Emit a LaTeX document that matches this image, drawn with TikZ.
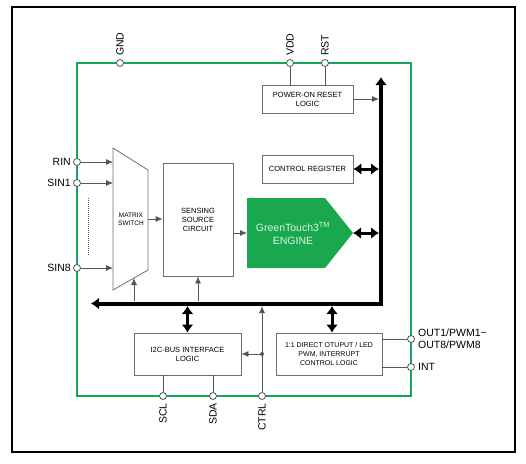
\documentclass[tikz,border=0pt]{standalone}
\usepackage{fontspec}
\setmainfont{Liberation Sans}
\usetikzlibrary{arrows.meta}
\definecolor{chipgreen}{RGB}{20,165,90}
\definecolor{enginegreen}{RGB}{26,168,78}
\definecolor{enginetext}{RGB}{225,245,230}
\definecolor{wiregray}{RGB}{85,85,85}
\definecolor{boxgray}{RGB}{110,110,110}
\tikzset{
  pin/.style={circle, draw=wiregray, fill=white, inner sep=0pt, minimum size=7pt, thick},
  blk/.style={draw=boxgray, thick, align=center, font=\fontsize{7.5}{9}\selectfont, inner sep=1pt},
  pinlabel/.style={font=\fontsize{10.5}{12}\selectfont, inner sep=1pt},
  wire/.style={wiregray, thick},
  sig/.style={wiregray, thick, -{Latex[length=7pt,width=6pt]}},
  busarrow/.style={line width=4pt, {Latex[length=8pt,width=12pt]}-{Latex[length=8pt,width=12pt]}},
}
\begin{document}
\begin{tikzpicture}[x=1pt, y=-1pt]
        \useasboundingbox (0,0) rectangle (526,463);

        % outer frame
        \draw[line width=2pt] (12,7) rectangle (515,452);

        % chip outline
        \draw[chipgreen, line width=1.3pt] (77,63) rectangle (411,396);

        % blocks
        \node[blk, minimum width=91pt, minimum height=28pt] (por) at (307.5,99) {POWER-ON RESET\\LOGIC};
        \node[blk, minimum width=91pt, minimum height=28pt] (ctrlreg) at (307.5,169) {CONTROL REGISTER};
        \node[blk, minimum width=70pt, minimum height=113pt] (sense) at (198,219.5) {SENSING\\SOURCE\\CIRCUIT};
        \node[blk, minimum width=107pt, minimum height=42pt] (i2c) at (187.5,354) {I2C-BUS INTERFACE\\LOGIC};
        \node[blk, minimum width=106pt, minimum height=42pt, font=\fontsize{7}{9}\selectfont] (outctl) at (329,354) {1:1 DIRECT OTUPUT / LED\\PWM, INTERRUPT\\CONTROL LOGIC};

        % engine
        \coordinate (engin) at (247,233);
        \coordinate (engtip) at (353,233);
        \fill[enginegreen] (247,198) -- (325,198) -- (engtip) -- (325,268) -- (247,268) -- cycle;
        \node[align=center, text=enginetext, font=\fontsize{10.5}{13}\selectfont, inner sep=0pt] (engine) at (293,234) {GreenTouch3\textsuperscript{TM}\\ENGINE};

        % matrix switch
        \coordinate (mux1) at (113,148);
        \coordinate (mux2) at (148,170);
        \coordinate (mux3) at (148,270);
        \coordinate (mux4) at (113,290);
        \draw[boxgray, thick] (mux1) -- (mux2) -- (mux3) -- (mux4) -- cycle;
        \node[align=center, font=\fontsize{6.5}{8}\selectfont, inner sep=0pt] (mux) at (131,219) {MATRIX\\SWITCH};

        % pins
        \node[pin] (gnd) at (120,63) {};
        \node[pin] (vdd) at (290,63) {};
        \node[pin] (rst) at (325,63) {};
        \node[pin] (rin) at (77,162) {};
        \node[pin] (sin1) at (77,183) {};
        \node[pin] (sin8) at (77,268) {};
        \node[pin] (scl) at (163,396) {};
        \node[pin] (sda) at (213,396) {};
        \node[pin] (ctrl) at (262,396) {};
        \node[pin] (out) at (411,339) {};
        \node[pin] (int) at (411,367) {};

        % pin labels
        \node[pinlabel, rotate=90, anchor=west] (gndlbl) at (120,57) {GND};
        \node[pinlabel, rotate=90, anchor=west] (vddlbl) at (290,57) {VDD};
        \node[pinlabel, rotate=90, anchor=west] (rstlbl) at (325,57) {RST};
        \node[pinlabel, anchor=east] (rinlbl) at (72,162) {RIN};
        \node[pinlabel, anchor=east] (sin1lbl) at (72,183) {SIN1};
        \node[pinlabel, anchor=east] (sin8lbl) at (72,268) {SIN8};
        \node[pinlabel, rotate=90, anchor=east] (scllbl) at (163,402) {SCL};
        \node[pinlabel, rotate=90, anchor=east] (sdalbl) at (213,402) {SDA};
        \node[pinlabel, rotate=90, anchor=east] (ctrllbl) at (262,402) {CTRL};
        \node[pinlabel, anchor=west, align=left] (outlbl) at (417,339) {OUT1/PWM1\textasciitilde\\OUT8/PWM8};
        \node[pinlabel, anchor=west] (intlbl) at (417,367) {INT};

        % bus
        \coordinate (bustop) at (381,77);
        \coordinate (buscorner) at (381,303.5);
        \coordinate (busend) at (91,303.5);
        \coordinate (busin) at (379,0);
        \coordinate (busup) at (0,301);
        \coordinate (busbot) at (0,306);
        \draw[busarrow] (bustop) -- (buscorner) -- (busend);

        % power pins
        \draw[wire] (vdd) -- (vdd |- por.north);
        \draw[wire] (rst) -- (rst |- por.north);
        \draw[sig] (por.east) -- (por.east -| busin);

        % register, engine and logic to bus
        \coordinate (outbus) at (332,306);
        \draw[busarrow, line width=3pt] (ctrlreg.east) -- (ctrlreg.east -| busin);
        \draw[busarrow, line width=3pt] (engtip) -- (engtip -| busin);
        \draw[busarrow, line width=3pt] (i2c.north |- busbot) -- (i2c.north);
        \draw[busarrow, line width=3pt] (outbus) -- (outbus |- outctl.north);

        % inputs
        \draw[sig] (rin) -- (rin -| mux1);
        \draw[sig] (sin1) -- (sin1 -| mux1);
        \draw[sig] (sin8) -- (sin8 -| mux1);
        \draw[wiregray, dash pattern=on 1pt off 1pt] (88,198) -- (88,255);

        % signal path
        \draw[sig] (mux -| mux2) -- (mux -| sense.west);
        \draw[sig] (sense.east |- engin) -- (engin);
        \coordinate (muxbot) at (134,278);
        \draw[sig] (muxbot |- busup) -- (muxbot);
        \draw[sig] (sense.south |- busup) -- (sense.south);

        % ctrl
        \draw[sig] (ctrl) -- (ctrl |- busbot);
        \node[circle, fill=wiregray, inner sep=0pt, minimum size=4pt] (ctrldot) at (ctrl |- i2c.east) {};
        \draw[sig] (ctrldot) -- (i2c.east);

        % i2c and outputs
        \draw[wire] (scl) -- (scl |- i2c.south);
        \draw[wire] (sda) -- (sda |- i2c.south);
        \draw[wire] (outctl.east |- out) -- (out);
        \draw[wire] (outctl.east |- int) -- (int);

\end{tikzpicture}
\end{document}
